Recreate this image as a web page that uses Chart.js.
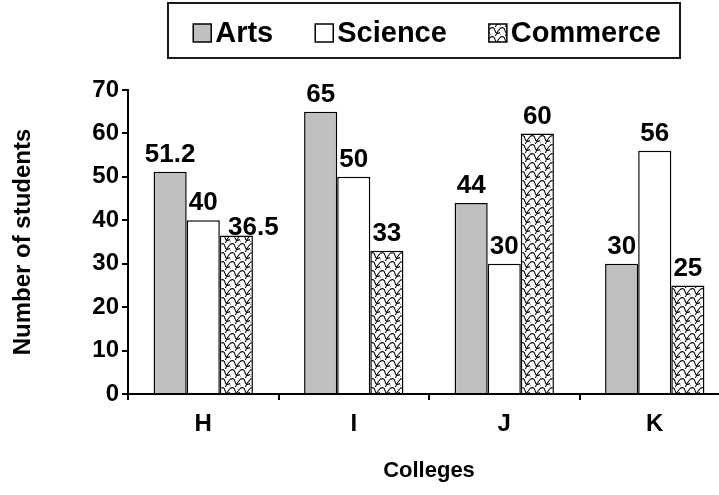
<!DOCTYPE html>
<html>
<head>
<meta charset="utf-8">
<script src="https://cdn.jsdelivr.net/npm/chart.js@4"></script>
<style>
  html, body { margin: 0; padding: 0; background: #fff; overflow: hidden; width: 719px; height: 495px; }
  canvas { display: block; }
</style>
</head>
<body>
<canvas id="c" width="735" height="495"></canvas>
<script>
const categories = ['H', 'I', 'J', 'K'];
const seriesNames = ['Arts', 'Science', 'Commerce'];
const artsValues = [51.2, 65, 44, 30];
const scienceValues = [40, 50, 30, 56];
const commerceValues = [36.5, 33, 60, 25];
const yTicks = [0, 10, 20, 30, 40, 50, 60, 70];

const FONT = '"Liberation Sans", Arial, sans-serif';

function makePattern() {
  const t = document.createElement('canvas');
  t.width = 10; t.height = 9;
  const g = t.getContext('2d');
  g.fillStyle = '#fff';
  g.fillRect(0, 0, 10, 9);
  g.strokeStyle = '#000';
  g.lineWidth = 1.1;
  g.beginPath();
  g.moveTo(0, 1.5);
  g.quadraticCurveTo(4, -1, 5, 3.5);
  g.quadraticCurveTo(6, 8, 10, 5.5);
  g.stroke();
  g.beginPath();
  g.moveTo(-5, 6);
  g.quadraticCurveTo(-1, 3.5, 0, 8);
  g.moveTo(5, 10.5);
  g.quadraticCurveTo(6, 6, 10, 1.5);
  g.stroke();
  const ctx = document.createElement('canvas').getContext('2d');
  return ctx.createPattern(t, 'repeat');
}
const hatch = makePattern();

const fills = ['#c0c0c0', '#ffffff', hatch];

// label placement tweak (dataset index - point index) as in the original artwork
const labelNudge = { '2-0': { dx: 17, dy: 9 } };

const legendPlugin = {
  id: 'boxLegend',
  afterDraw(chart) {
    const ctx = chart.ctx;
    ctx.save();
    ctx.lineWidth = 2;
    ctx.strokeStyle = '#1a1a1a';
    ctx.strokeRect(168, 3, 512, 55);
    ctx.font = 'bold 29px ' + FONT;
    ctx.textBaseline = 'middle';
    const box = 18, gapBoxText = 4, gapItems = 42;
    const items = chart.data.datasets.map(d => ({ label: d.label, fill: d.backgroundColor }));
    let total = 0;
    items.forEach((it, i) => {
      it.w = ctx.measureText(it.label).width;
      total += box + gapBoxText + it.w + (i < items.length - 1 ? gapItems : 0);
    });
    let x = 427 - total / 2;
    const cy = 33;
    items.forEach(it => {
      ctx.fillStyle = it.fill;
      ctx.fillRect(x, cy - box / 2, box, box);
      ctx.lineWidth = 1.5;
      ctx.strokeStyle = '#000';
      ctx.strokeRect(x, cy - box / 2, box, box);
      ctx.fillStyle = '#000';
      ctx.fillText(it.label, x + box + gapBoxText, cy + 1);
      x += box + gapBoxText + it.w + gapItems;
    });
    ctx.restore();
  }
};

const valueLabels = {
  id: 'valueLabels',
  afterDatasetsDraw(chart) {
    const ctx = chart.ctx;
    ctx.save();
    ctx.font = 'bold 26px ' + FONT;
    ctx.fillStyle = '#000';
    ctx.textAlign = 'center';
    ctx.textBaseline = 'bottom';
    chart.data.datasets.forEach((ds, di) => {
      const meta = chart.getDatasetMeta(di);
      meta.data.forEach((el, i) => {
        const n = labelNudge[di + '-' + i] || { dx: 0, dy: 0 };
        ctx.fillText(String(ds.data[i]), el.x + n.dx, el.y - 4 + n.dy);
      });
    });
    ctx.restore();
  }
};

new Chart(document.getElementById('c'), {
  type: 'bar',
  data: {
    labels: categories,
    datasets: [
      { label: seriesNames[0], data: artsValues, backgroundColor: fills[0] },
      { label: seriesNames[1], data: scienceValues, backgroundColor: fills[1] },
      { label: seriesNames[2], data: commerceValues, backgroundColor: fills[2] }
    ].map(d => Object.assign(d, { borderColor: '#000', borderWidth: 1.5, borderSkipped: 'bottom',
      barPercentage: 1.0, categoryPercentage: 0.66 }))
  },
  options: {
    responsive: false,
    devicePixelRatio: 1,
    animation: false,
    layout: { padding: { top: 90, right: 5, left: 0, bottom: 0 } },
    plugins: { legend: { display: false }, tooltip: { enabled: false } },
    scales: {
      x: {
        afterFit(s) { s.height = 101; },
        grid: { display: true, offset: true, drawOnChartArea: false, drawTicks: true, tickLength: 6, color: '#000', lineWidth: 2 },
        border: { display: true, color: '#000', width: 2 },
        ticks: { color: '#000', padding: 10, font: { family: FONT, weight: 'bold', size: 24 } },
        title: { display: true, text: 'Colleges', color: '#000', padding: { top: 0, bottom: 11 },
          font: { family: FONT, weight: 'bold', size: 22 } }
      },
      y: {
        min: 0, max: 70,
        afterFit(s) { s.width = 128; },
        afterBuildTicks(s) { s.ticks = yTicks.map(v => ({ value: v })); },
        grid: { display: true, drawOnChartArea: false, drawTicks: true, tickLength: 6, color: '#000', lineWidth: 2 },
        border: { display: true, color: '#000', width: 2 },
        ticks: { color: '#000', padding: 3, font: { family: FONT, weight: 'bold', size: 24 } },
        title: { display: true, text: 'Number of students', color: '#000', padding: { top: 9, bottom: 0 },
          font: { family: FONT, weight: 'bold', size: 24 } }
      }
    }
  },
  plugins: [legendPlugin, valueLabels]
});
</script>
</body>
</html>
